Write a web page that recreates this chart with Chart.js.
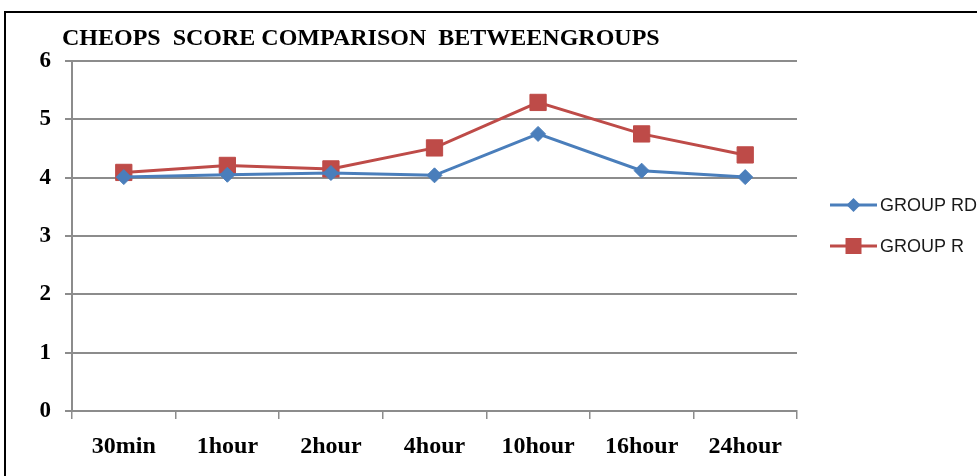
<!DOCTYPE html>
<html>
<head>
<meta charset="utf-8">
<script src="https://cdn.jsdelivr.net/npm/chart.js@4/dist/chart.umd.min.js"></script>
<style>
  html, body { margin: 0; padding: 0; background: #fff; }
  #wrap { position: relative; width: 977px; height: 476px; }
</style>
</head>
<body>
<div id="wrap"><canvas id="c" width="977" height="476"></canvas></div>
<script>
const categories = ["30min", "1hour", "2hour", "4hour", "10hour", "16hour", "24hour"];
const groupRD = [4.01, 4.05, 4.08, 4.04, 4.75, 4.12, 4.01];
const groupR  = [4.09, 4.21, 4.15, 4.51, 5.29, 4.75, 4.39];
const yTicks  = [0, 1, 2, 3, 4, 5, 6];
const titleText = "CHEOPS  SCORE COMPARISON  BETWEENGROUPS";
const seriesLabels = ["GROUP RD", "GROUP R"];

const BLUE = "#4A7EBB";
const RED = "#BE4B48";
const GRID = "#8c8c8c";

const framePlugin = {
  id: "frame",
  beforeDraw(chart) {
    const ctx = chart.ctx;
    ctx.save();
    ctx.fillStyle = "#fff";
    ctx.fillRect(0, 0, chart.width, chart.height);
    ctx.strokeStyle = "#000";
    ctx.lineWidth = 2;
    ctx.strokeRect(5, 12, 1100, 600);
    ctx.restore();
  },
  afterDraw(chart) {
    const ctx = chart.ctx;
    ctx.save();
    ctx.fillStyle = "#000";
    ctx.font = "bold 24px 'Liberation Serif'";
    ctx.textBaseline = "alphabetic";
    ctx.textAlign = "left";
    ctx.fillText(titleText, 62, 45);
    const ys = [205, 246];
    chart.data.datasets.forEach((ds, i) => {
      const y = ys[i];
      ctx.strokeStyle = ds.borderColor;
      ctx.lineWidth = 3;
      ctx.beginPath();
      ctx.moveTo(830, y);
      ctx.lineTo(877, y);
      ctx.stroke();
      ctx.fillStyle = ds.borderColor;
      const cx = 853.5;
      ctx.beginPath();
      if (ds.pointStyle === "rectRot") {
        const r = 7;
        ctx.moveTo(cx - r, y); ctx.lineTo(cx, y - r); ctx.lineTo(cx + r, y); ctx.lineTo(cx, y + r);
        ctx.closePath();
      } else {
        const s = 8;
        ctx.rect(cx - s, y - s, 2 * s, 2 * s);
      }
      ctx.fill();
      ctx.fillStyle = "#1a1a1a";
      ctx.font = "18px 'Liberation Sans'";
      ctx.textBaseline = "middle";
      ctx.fillText(ds.label, 880, y + 1);
    });
    ctx.restore();
  }
};

new Chart(document.getElementById("c"), {
  type: "line",
  data: {
    labels: categories,
    datasets: [
      {
        label: seriesLabels[0],
        data: groupRD,
        borderColor: BLUE,
        backgroundColor: BLUE,
        borderWidth: 3,
        pointStyle: "rectRot",
        pointRadius: 7.5,
        pointBorderWidth: 1,
        pointBackgroundColor: BLUE,
        pointBorderColor: BLUE,
        tension: 0
      },
      {
        label: seriesLabels[1],
        data: groupR,
        borderColor: RED,
        backgroundColor: RED,
        borderWidth: 3,
        pointStyle: "rect",
        pointRadius: 11.5,
        pointBorderWidth: 1,
        pointBackgroundColor: RED,
        pointBorderColor: RED,
        tension: 0
      }
    ]
  },
  options: {
    responsive: false,
    animation: false,
    layout: { padding: { left: 0, right: 180, top: 61, bottom: 0 } },
    plugins: {
      legend: { display: false },
      title: { display: false },
      tooltip: { enabled: false }
    },
    scales: {
      x: {
        type: "category",
        offset: true,
        afterFit(s) { s.height = 65; },
        grid: {
          offset: true,
          drawOnChartArea: false,
          drawTicks: true,
          tickLength: 8,
          color: GRID,
          lineWidth: 1.5
        },
        border: { display: true, color: GRID, width: 2 },
        ticks: {
          color: "#000",
          font: { family: "'Liberation Serif'", size: 24, weight: "bold" },
          padding: 13,
          maxRotation: 0,
          autoSkip: false
        }
      },
      y: {
        min: 0,
        max: 6,
        afterFit(s) { s.width = 72; },
        afterBuildTicks(s) { s.ticks = yTicks.map(v => ({ value: v })); },
        grid: {
          color: GRID,
          lineWidth: 2,
          drawTicks: true,
          tickLength: 7
        },
        border: { display: true, color: GRID, width: 2 },
        ticks: {
          color: "#000",
          font: { family: "'Liberation Serif'", size: 23, weight: "bold" },
          padding: 14,
          stepSize: 1
        }
      }
    }
  },
  plugins: [framePlugin]
});
</script>
</body>
</html>
